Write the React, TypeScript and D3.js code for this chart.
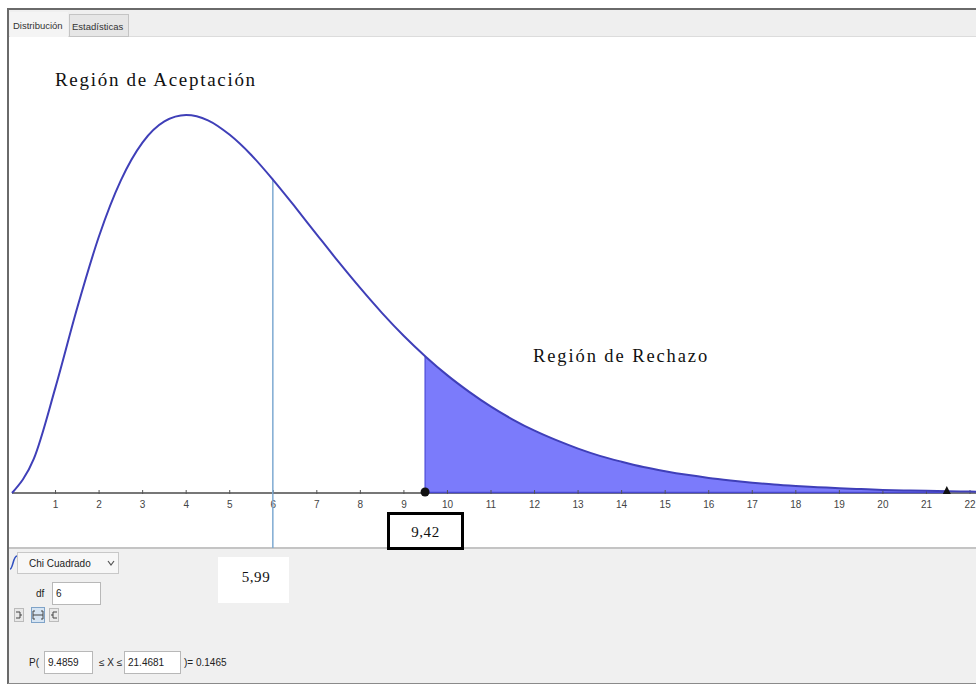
import { useEffect, useRef } from 'react';
import * as d3 from 'd3';

// density of the curve, one point every 0.5
const xValues = [
  0, 0.5, 1, 1.5, 2, 2.5, 3, 3.5, 4, 4.5, 5, 5.5, 6, 6.5, 7, 7.5, 8, 8.5, 9, 9.5, 10, 10.5, 11,
  11.5, 12, 12.5, 13, 13.5, 14, 14.5, 15, 15.5, 16, 16.5, 17, 17.5, 18, 18.5, 19, 19.5, 20, 20.5,
  21, 21.5, 22, 22.5,
];
const densityValues = [
  0, 0.0122, 0.0379, 0.0664, 0.092, 0.1119, 0.1255, 0.133, 0.1353, 0.1334, 0.1282, 0.1209, 0.112,
  0.1024, 0.0925, 0.0827, 0.0733, 0.0644, 0.0562, 0.0488, 0.0421, 0.0362, 0.0309, 0.0263, 0.0223,
  0.0189, 0.0159, 0.0133, 0.0112, 0.0093, 0.0078, 0.0065, 0.0054, 0.0045, 0.0037, 0.003, 0.0025,
  0.0021, 0.0017, 0.0014, 0.0011, 0.0009, 0.0008, 0.0006, 0.0005, 0.0004,
];
const xTicks = d3.range(1, 23);

const criticalValue = 5.99;
const lowerBound = 9.4859;
const upperBound = 21.4681;
const lowerDensity = 0.049;
const upperDensity = 0.00063;

const criticalLabel = '5,99';
const statLabel = '9,42';
const probability = '0.1465';
const degreesOfFreedom = '6';

const App = () => {
  const svgRef = useRef<SVGSVGElement>(null);

  useEffect(() => {
    const width = 976;
    const height = 685;
    const svg = d3.select(svgRef.current).attr('width', width).attr('height', height);
    svg.selectAll('*').remove();

    const points = xValues.map((x, i) => ({ x, y: densityValues[i] }));

    const xScale = d3.scaleLinear().domain([0, 22]).range([12, 970]);
    const yScale = d3.scaleLinear().domain([0, 0.16]).range([493, 46]);

    // outer frame and panels
    svg.append('rect').attr('x', 0).attr('y', 0).attr('width', width).attr('height', height).attr('fill', '#fff');
    svg.append('rect').attr('x', 9).attr('y', 10).attr('width', width - 9).attr('height', 27).attr('fill', '#efefef');
    svg.append('line').attr('x1', 9).attr('x2', width).attr('y1', 36.5).attr('y2', 36.5).attr('stroke', '#dcdcdc');
    svg.append('rect').attr('x', 9).attr('y', 548).attr('width', width - 9).attr('height', 135).attr('fill', '#f0f0f0');
    svg.append('line').attr('x1', 9).attr('x2', width).attr('y1', 548).attr('y2', 548).attr('stroke', '#c4c4c4').attr('stroke-width', 2);
    svg.append('line').attr('x1', 8).attr('x2', width).attr('y1', 9).attr('y2', 9).attr('stroke', '#6a6a6a').attr('stroke-width', 2);
    svg.append('line').attr('x1', 8).attr('x2', 8).attr('y1', 8).attr('y2', 684).attr('stroke', '#6a6a6a').attr('stroke-width', 2);
    svg.append('line').attr('x1', 8).attr('x2', width).attr('y1', 683.5).attr('y2', 683.5).attr('stroke', '#8a8a8a');

    // tabs
    const tabFont = 'Liberation Sans Narrow, Liberation Sans, Arial, sans-serif';
    svg.append('rect').attr('x', 10).attr('y', 12).attr('width', 58).attr('height', 25).attr('fill', '#f4f4f4');
    svg.append('text').attr('x', 13).attr('y', 29).attr('font-family', tabFont).attr('font-size', 9.5).attr('fill', '#333').text('Distribución');
    svg.append('rect').attr('x', 69.5).attr('y', 14.5).attr('width', 59).attr('height', 22).attr('fill', '#e6e6e6').attr('stroke', '#c4c4c4');
    svg.append('text').attr('x', 72).attr('y', 30).attr('font-family', tabFont).attr('font-size', 9.5).attr('fill', '#333').text('Estadísticas');

    // shaded rejection area
    const shaded = [
      { x: lowerBound, y: lowerDensity },
      ...points.filter((p) => p.x > lowerBound && p.x < upperBound),
      { x: upperBound, y: upperDensity },
    ];
    const area = d3
      .area<{ x: number; y: number }>()
      .x((d) => xScale(d.x))
      .y0(yScale(0))
      .y1((d) => yScale(d.y))
      .curve(d3.curveMonotoneX);
    svg.append('path').attr('d', area(shaded)).attr('fill', '#7b7bfb').attr('stroke', 'none');
    svg
      .append('line')
      .attr('x1', xScale(lowerBound))
      .attr('x2', xScale(lowerBound))
      .attr('y1', yScale(0))
      .attr('y2', yScale(lowerDensity))
      .attr('stroke', '#4a4ad8')
      .attr('stroke-width', 1.2);

    // axis
    svg
      .append('line')
      .attr('x1', xScale(0))
      .attr('x2', width)
      .attr('y1', yScale(0))
      .attr('y2', yScale(0))
      .attr('stroke', '#4a4a4a')
      .attr('stroke-width', 1.5);
    svg
      .append('line')
      .attr('x1', xScale(lowerBound))
      .attr('x2', xScale(upperBound))
      .attr('y1', yScale(0) - 0.5)
      .attr('y2', yScale(0) - 0.5)
      .attr('stroke', '#4848d0')
      .attr('stroke-width', 1.5);

    const ticks = svg.append('g');
    ticks
      .selectAll('line')
      .data(xTicks)
      .enter()
      .append('line')
      .attr('x1', (d) => xScale(d))
      .attr('x2', (d) => xScale(d))
      .attr('y1', yScale(0) - 3)
      .attr('y2', yScale(0) + 1)
      .attr('stroke', '#555');
    ticks
      .selectAll('text')
      .data(xTicks)
      .enter()
      .append('text')
      .attr('x', (d) => xScale(d))
      .attr('y', 508)
      .attr('text-anchor', 'middle')
      .attr('font-family', tabFont)
      .attr('font-size', 10)
      .attr('fill', '#444')
      .text((d) => d);

    // critical value line
    const critY = d3.interpolateNumber(densityValues[11], densityValues[12])((criticalValue - 5.5) / 0.5);
    svg
      .append('line')
      .attr('x1', xScale(criticalValue))
      .attr('x2', xScale(criticalValue))
      .attr('y1', yScale(critY))
      .attr('y2', 548)
      .attr('stroke', '#7eaad2')
      .attr('stroke-width', 1.5);

    // density curve
    const line = d3
      .line<{ x: number; y: number }>()
      .x((d) => xScale(d.x))
      .y((d) => yScale(d.y))
      .curve(d3.curveMonotoneX);
    svg
      .append('path')
      .attr('d', line(points))
      .attr('fill', 'none')
      .attr('stroke', '#3f3fb8')
      .attr('stroke-width', 2);

    // markers on the axis
    svg.append('circle').attr('cx', xScale(lowerBound)).attr('cy', yScale(0) - 1).attr('r', 4.5).attr('fill', '#111');
    const tx = xScale(upperBound);
    const ty = yScale(0);
    svg
      .append('path')
      .attr('d', `M${tx - 4},${ty + 1} L${tx},${ty - 7} L${tx + 4},${ty + 1} Z`)
      .attr('fill', '#111');

    // region labels
    const serif = 'Liberation Serif, Times New Roman, serif';
    svg.append('text').attr('x', 55).attr('y', 86).attr('font-family', serif).attr('font-size', 19).attr('letter-spacing', 1.7).attr('fill', '#111').text('Región de Aceptación');
    svg.append('text').attr('x', 533).attr('y', 362).attr('font-family', serif).attr('font-size', 18.5).attr('letter-spacing', 1.9).attr('fill', '#111').text('Región de Rechazo');

    // value boxes
    svg.append('rect').attr('x', 388.5).attr('y', 513.5).attr('width', 74).attr('height', 35).attr('fill', '#fff').attr('stroke', '#000').attr('stroke-width', 3);
    svg.append('text').attr('x', 425.5).attr('y', 537).attr('text-anchor', 'middle').attr('font-family', serif).attr('font-size', 15).attr('letter-spacing', 0.6).attr('fill', '#111').text(statLabel);
    svg.append('rect').attr('x', 218).attr('y', 557).attr('width', 71).attr('height', 46).attr('fill', '#fff');
    svg.append('text').attr('x', 256).attr('y', 582).attr('text-anchor', 'middle').attr('font-family', serif).attr('font-size', 15).attr('letter-spacing', 0.6).attr('fill', '#111').text(criticalLabel);

    // control panel
    const ui = 'Liberation Sans Narrow, Liberation Sans, Arial, sans-serif';
    svg.append('path').attr('d', 'M10,569 C13,569 13,556 17,556').attr('fill', 'none').attr('stroke', '#3050c0').attr('stroke-width', 1.5);
    svg.append('rect').attr('x', 17.5).attr('y', 552.5).attr('width', 101).attr('height', 21).attr('fill', '#f7f7f7').attr('stroke', '#c8c8c8');
    svg.append('text').attr('x', 29).attr('y', 567).attr('font-family', ui).attr('font-size', 10).attr('fill', '#222').text('Chi Cuadrado');
    svg.append('path').attr('d', 'M108,561 L111,565 L114,561').attr('fill', 'none').attr('stroke', '#555').attr('stroke-width', 1.2);

    svg.append('text').attr('x', 36).attr('y', 597).attr('font-family', ui).attr('font-size', 10).attr('fill', '#222').text('df');
    svg.append('rect').attr('x', 52.5).attr('y', 582.5).attr('width', 48).attr('height', 22).attr('fill', '#fff').attr('stroke', '#b8b8b8');
    svg.append('text').attr('x', 56).attr('y', 597).attr('font-family', ui).attr('font-size', 10).attr('fill', '#222').text(degreesOfFreedom);

    // interval buttons
    const btn = svg.append('g').attr('fill', 'none').attr('stroke', '#444').attr('stroke-width', 1);
    btn.append('rect').attr('x', 14.5).attr('y', 608.5).attr('width', 9).attr('height', 13).attr('fill', '#e8e8e8').attr('stroke', '#bbb');
    btn.append('path').attr('d', 'M16,612 L20,612 L20,618 L16,618 M20,615 L22,615');
    btn.append('rect').attr('x', 31.5).attr('y', 607.5).attr('width', 13).attr('height', 15).attr('fill', '#d6e4f2').attr('stroke', '#7fa3c8');
    btn.append('path').attr('d', 'M35,611 L33,611 L33,619 L35,619 M41,611 L43,611 L43,619 L41,619 M33,615 L43,615');
    btn.append('rect').attr('x', 49.5).attr('y', 608.5).attr('width', 9).attr('height', 13).attr('fill', '#e8e8e8').attr('stroke', '#bbb');
    btn.append('path').attr('d', 'M57,612 L53,612 L53,618 L57,618 M51,615 L53,615');

    svg.append('text').attr('x', 29).attr('y', 666).attr('font-family', ui).attr('font-size', 10).attr('fill', '#222').text('P(');
    svg.append('rect').attr('x', 44.5).attr('y', 651.5).attr('width', 48).attr('height', 22).attr('fill', '#fff').attr('stroke', '#b8b8b8');
    svg.append('text').attr('x', 48).attr('y', 666).attr('font-family', ui).attr('font-size', 10).attr('fill', '#222').text(String(lowerBound));
    svg.append('text').attr('x', 99).attr('y', 666).attr('font-family', ui).attr('font-size', 10).attr('fill', '#222').text('≤ X ≤');
    svg.append('rect').attr('x', 124.5).attr('y', 651.5).attr('width', 56).attr('height', 22).attr('fill', '#fff').attr('stroke', '#b8b8b8');
    svg.append('text').attr('x', 128).attr('y', 666).attr('font-family', ui).attr('font-size', 10).attr('fill', '#222').text(String(upperBound));
    svg.append('text').attr('x', 184).attr('y', 666).attr('font-family', ui).attr('font-size', 10).attr('fill', '#222').text(`)= ${probability}`);
  }, []);

  return (
    <div style={{ position: 'absolute', left: 0, top: 0 }}>
      <svg ref={svgRef} style={{ display: 'block' }} />
    </div>
  );
};

export default App;
